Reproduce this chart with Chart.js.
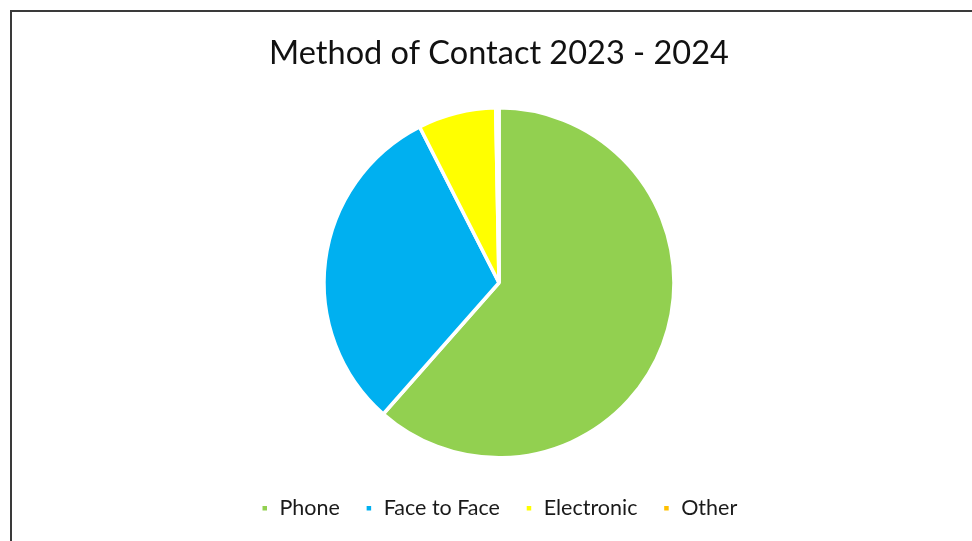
<!DOCTYPE html>
<html>
<head>
<meta charset="utf-8">
<script src="https://cdn.jsdelivr.net/npm/chart.js@4.4.0/dist/chart.umd.min.js"></script>
<style>
  html, body { margin: 0; padding: 0; background: #fff; }
  #wrap { position: relative; width: 972px; height: 541px; }
  #frame {
    position: absolute; left: 10px; top: 10px; right: -5px; bottom: -5px;
    border-left: 2px solid #3a3a3a; border-top: 2px solid #3a3a3a;
    pointer-events: none;
  }
</style>
</head>
<body>
<div id="wrap">
  <canvas id="contactChart" width="972" height="541"></canvas>
  <div id="frame"></div>
</div>
<script>
// contact method share (%)
const methods = ["Phone", "Face to Face", "Electronic", "Other"];
const shares = [61.5, 31.0, 7.2, 0.3];
const sliceColors = ["#92D050", "#00B0F0", "#FFFF00", "#FFC000"];

const ctx = document.getElementById("contactChart").getContext("2d");
new Chart(ctx, {
  type: "pie",
  data: {
    labels: methods,
    datasets: [{
      data: shares,
      backgroundColor: sliceColors,
      borderColor: "#ffffff",
      borderWidth: 3.5
    }]
  },
  options: {
    responsive: false,
    animation: false,
    radius: 175,
    layout: { padding: { left: 26, right: 0, top: 0, bottom: 12 } },
    plugins: {
      title: {
        display: true,
        text: "Method of Contact 2023 - 2024",
        color: "#111",
        font: { family: "Lato", size: 32.5, weight: "normal" },
        padding: { top: 34, bottom: 20 }
      },
      legend: {
        position: "bottom",
        labels: {
          color: "#1a1a1a",
          boxWidth: 8,
          boxHeight: 8,
          padding: 25,
          font: { family: "Lato", size: 21.5 }
        }
      },
      tooltip: { enabled: false }
    }
  }
});
</script>
</body>
</html>
